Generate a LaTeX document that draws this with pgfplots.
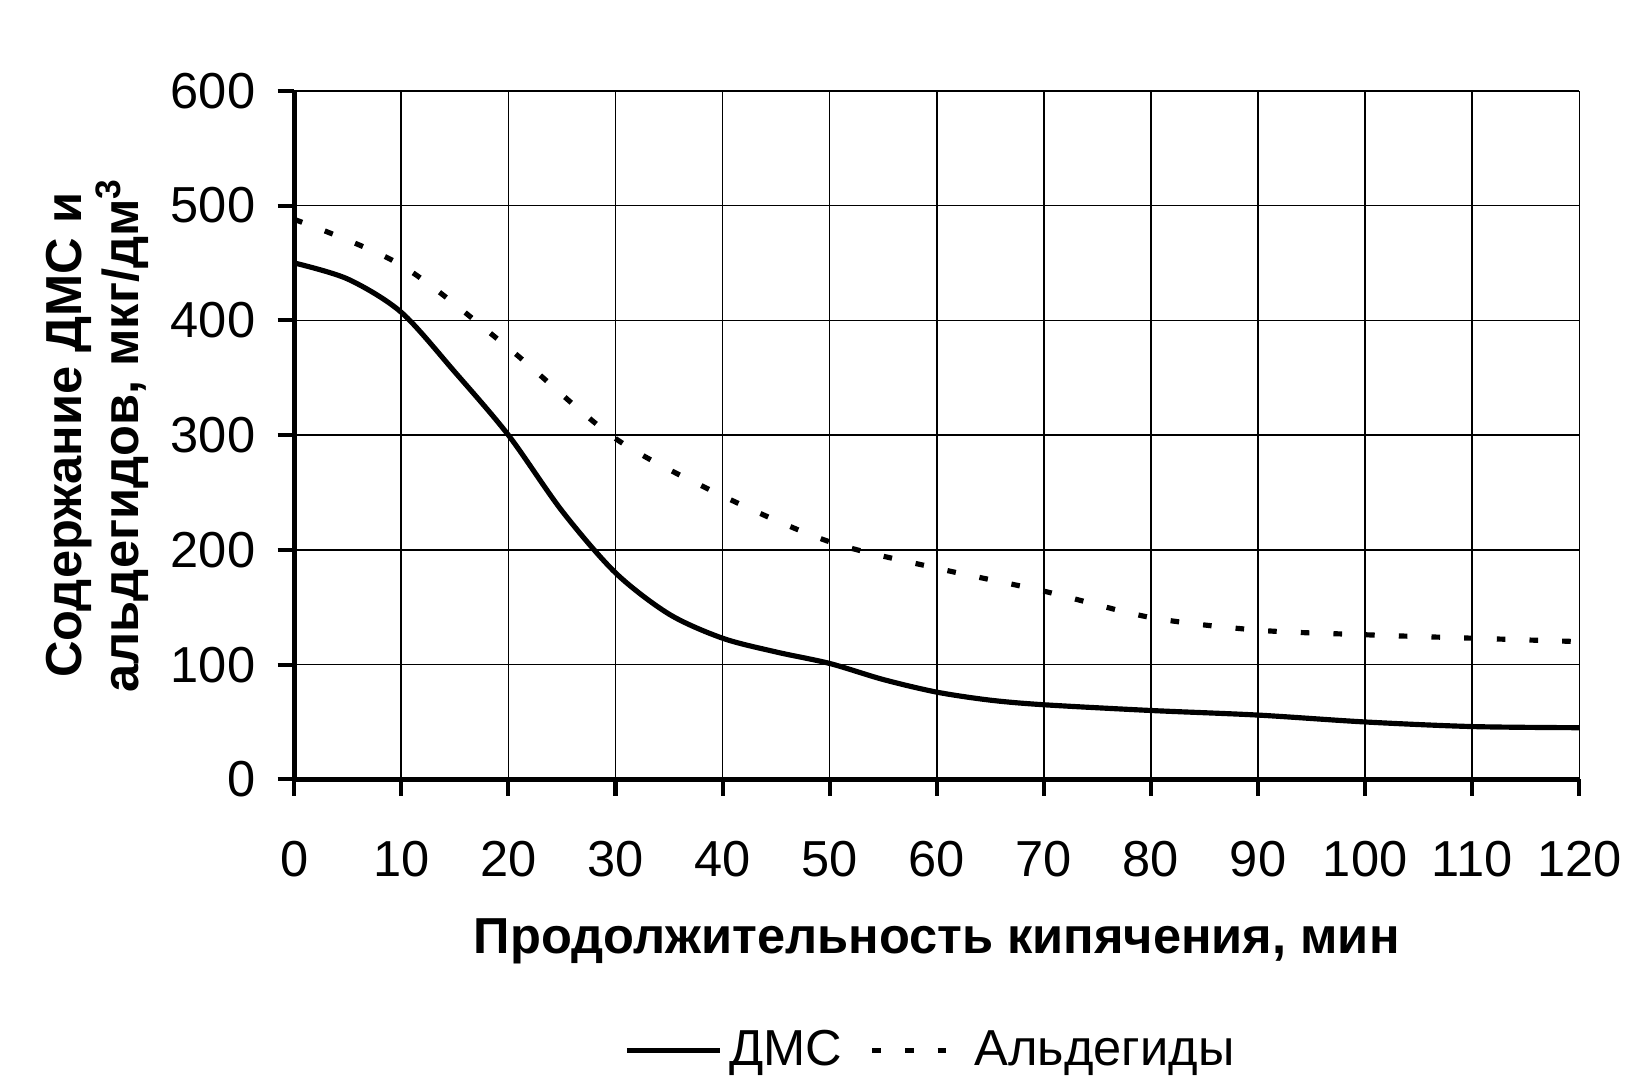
\documentclass[border=0pt]{standalone}
\usepackage{pgfplots}
\pgfplotsset{compat=1.18}
\usepackage{fontspec}
\setmainfont{Liberation Sans}
\begin{document}
\begin{tikzpicture}
\begin{axis}[
  scale only axis,
  width=373.5pt, height=200.1pt,
  xmin=0, xmax=120, ymin=0, ymax=600,
  xtick={0,10,...,120}, ytick={0,100,...,600},
  axis x line*=bottom, axis y line*=left,
  axis line style={line width=1.4pt, black},
  grid=major,
  grid style={line width=0.45pt, black},
  tick align=outside,
  major tick length=4.8pt,
  tick style={line width=1.2pt, black},
  /pgf/number format/assume math mode=true,
  tick label style={font=\fontsize{14.7}{16}\selectfont},
  xticklabel style={yshift=-9.5pt},
  yticklabel style={xshift=-3pt},
  xlabel={Продолжительность кипячения, мин},
  ylabel={Содержание ДМС и\\альдегидов, мкг/дм\textsuperscript{3}},
  xlabel style={font=\bfseries\fontsize{14.7}{16}\selectfont, at={(0.5,-0.235)}, anchor=center},
  ylabel style={font=\bfseries\fontsize{14.7}{13}\selectfont, align=center, at={(-0.153,0.5)}, anchor=center},
  legend style={draw=none, at={(0.497,-0.394)}, anchor=center, font=\fontsize{14.7}{16}\selectfont,
    /tikz/every even column/.append style={column sep=6pt}},
  legend columns=2,
  legend image code/.code={\draw[#1] (0pt,0pt) -- (27pt,0pt);},
  clip=false,
]
\addplot[black, line width=1.5pt, smooth, tension=0.5] coordinates {
(0,450) (5,436) (10,407) (15,355) (20,300) (25,234) (30,180) (35,144) (40,123) (45,111) (50,101) (55,87) (60,76) (65,69) (70,65) (80,60) (90,56) (100,50) (110,46) (120,45)
};
\addlegendentry{ДМС}
\addplot[black, line width=1.5pt, dash pattern=on 2.5pt off 7pt, smooth, tension=0.5] coordinates {
(0,488) (10,448) (20,376) (30,297) (40,247) (50,207) (60,184) (70,164) (80,141) (90,130) (100,126) (110,123) (120,120)
};
\addlegendentry{Альдегиды}
\coordinate (bl) at (rel axis cs:-0.2289,-0.4438);
\coordinate (tr) at (rel axis cs:1.0305,1.1319);
\end{axis}
\path (bl) rectangle (tr);
\end{tikzpicture}
\end{document}
